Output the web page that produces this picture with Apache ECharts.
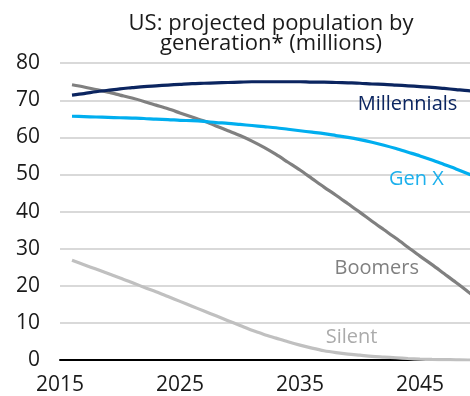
<!DOCTYPE html>
<html>
<head>
<meta charset="utf-8">
<script src="https://cdn.jsdelivr.net/npm/echarts@6/dist/echarts.min.js"></script>
<style>
html,body{margin:0;padding:0;background:#fff;}
#chart{width:470px;height:396px;}
</style>
</head>
<body>
<div id="chart"></div>
<script>
const years = [2016,2017,2018,2019,2020,2021,2022,2023,2024,2025,2026,2027,2028,2029,2030,2031,2032,2033,2034,2035,2036,2037,2038,2039,2040,2041,2042,2043,2044,2045,2046,2047,2048,2049,2050];
const millennials = [71.4,71.8,72.3,72.7,73.1,73.4,73.7,73.9,74.1,74.3,74.5,74.6,74.7,74.8,74.9,75.0,75.0,75.0,75.0,75.0,74.9,74.9,74.8,74.7,74.6,74.4,74.3,74.1,73.9,73.7,73.5,73.2,72.9,72.6,72.2];
const genX = [65.7,65.6,65.5,65.4,65.3,65.2,65.1,64.9,64.8,64.6,64.5,64.3,64.0,63.8,63.5,63.2,62.9,62.6,62.2,61.8,61.4,61.0,60.5,60.0,59.4,58.7,57.9,57.0,56.0,55.0,53.9,52.7,51.5,50.2,48.8];
const boomers = [74.2,73.6,72.9,72.2,71.4,70.6,69.7,68.7,67.7,66.6,65.5,64.4,63.1,61.8,60.5,59.0,57.3,55.4,53.3,51.2,48.9,46.6,44.4,42.1,39.8,37.4,35.1,32.8,30.4,28.0,25.7,23.3,20.9,18.4,16.0];
const silent = [26.9,25.7,24.5,23.3,22.1,20.9,19.6,18.4,17.1,15.8,14.5,13.2,11.9,10.6,9.3,8.0,6.9,5.9,4.9,4.0,3.2,2.5,2.0,1.6,1.3,1.0,0.8,0.6,0.4,0.25,0.15,0.1,0.05,0,0];
const xTickLabels = [2015,2025,2035,2045];
const yTicks = [0,10,20,30,40,50,60,70,80];
const seriesNames = ['Millennials','Gen X','Boomers','Silent'];

const FONT = '"Open Sans", Lato, sans-serif';
const pairs = arr => years.map((y,i)=>[y,arr[i]]);

const colors = ['#0b2560','#00aeef','#808080','#c0c0c0'];
const labelColors = ['#0b2560','#1cb0ec','#808080','#ababab'];
const labelAt = [[2043.96,68.8],[2044.7,48.7],[2041.4,24.8],[2039.3,6.2]];
const seriesData = [millennials, genX, boomers, silent];

const chart = echarts.init(document.getElementById('chart'), null, {renderer:'canvas'});
chart.setOption({
  animation:false,
  backgroundColor:'#fff',
  title:{
    text:'US: projected population by\ngeneration* (millions)',
    left:266, top:9, textAlign:'center',
    textStyle:{fontFamily:FONT, fontSize:22, fontWeight:'normal', color:'#1a1a1a', lineHeight:20}
  },
  grid:{left:60, right:0, top:63.2, bottom:34.4, containLabel:false},
  xAxis:{
    type:'value', min:2015, max:2015 + 410/12, interval:5,
    axisLine:{show:true, onZero:true, lineStyle:{color:'#000', width:2}},
    axisTick:{show:false},
    splitLine:{show:false},
    axisLabel:{
      margin:15, fontFamily:FONT, fontSize:21, color:'#1a1a1a', showMaxLabel:false,
      formatter:v => xTickLabels.indexOf(v) >= 0 ? String(v) : ''
    }
  },
  yAxis:{
    type:'value', min:yTicks[0], max:yTicks[yTicks.length-1], interval:10,
    axisLine:{show:false}, axisTick:{show:false},
    splitLine:{lineStyle:{color:'#d9d9d9', width:2}},
    axisLabel:{margin:20, fontFamily:FONT, fontSize:21, color:'#1a1a1a'}
  },
  series: seriesNames.map((name,i)=>({
    name, type:'line', data:pairs(seriesData[i]), smooth:0.3, showSymbol:false, symbol:'none',
    lineStyle:{color:colors[i], width:3.2}, z: 10-i, clip:true,
    markPoint:{
      symbol:'circle', symbolSize:0, silent:true,
      data:[{coord:labelAt[i], value:name}],
      label:{show:true, position:'inside', formatter:name, fontFamily:FONT, fontSize:20, color:labelColors[i]}
    }
  }))
});
</script>
</body>
</html>
